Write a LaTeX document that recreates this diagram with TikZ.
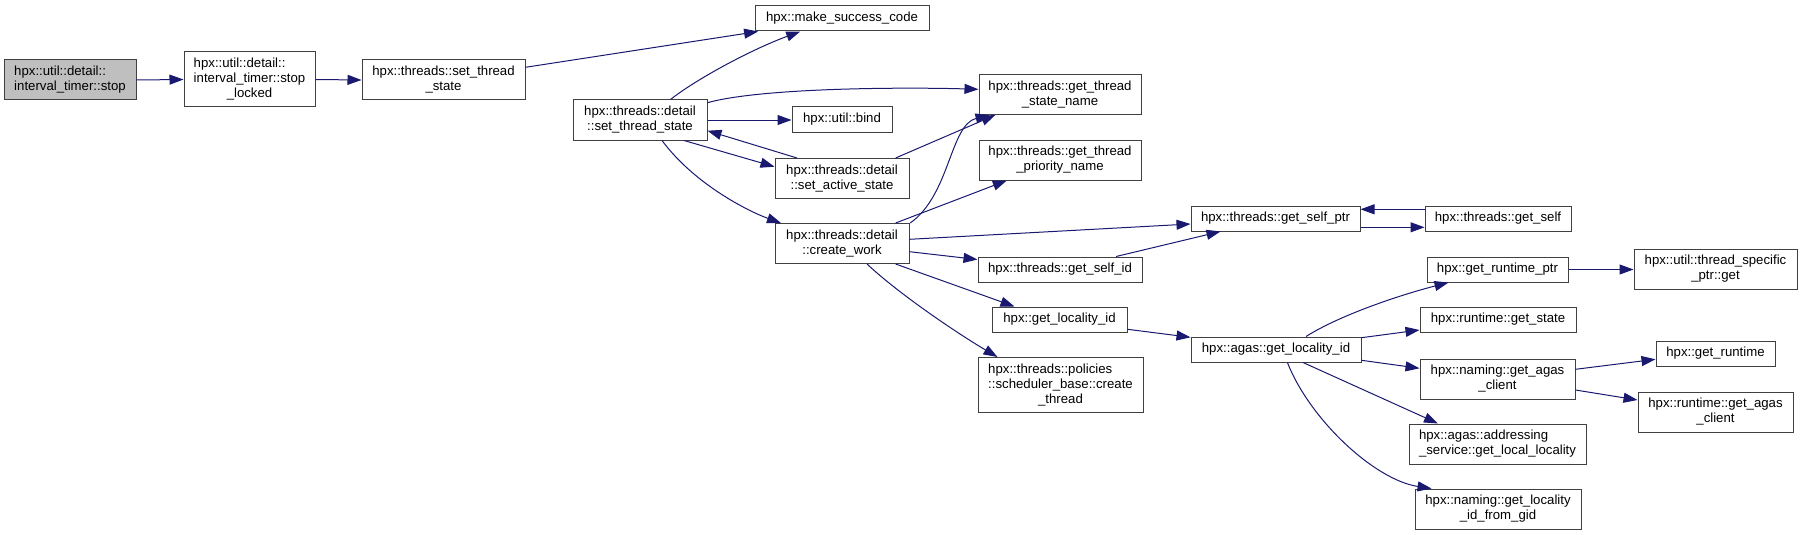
\documentclass[tikz,border=0pt]{standalone}
\usepackage{fontspec}
\setmainfont{Liberation Sans}
\usetikzlibrary{arrows.meta,calc}
\definecolor{edgeblue}{HTML}{191970}
\definecolor{boxline}{HTML}{404040}
\definecolor{rootfill}{HTML}{BFBFBF}
\newcommand{\twoln}[2]{\begin{tabular}{@{}l@{}}#1\\\multicolumn{1}{@{}c@{}}{#2}\end{tabular}}
\newcommand{\threeln}[3]{\begin{tabular}{@{}l@{}}#1\\#2\\\multicolumn{1}{@{}c@{}}{#3}\end{tabular}}
\begin{document}
\begin{tikzpicture}[x=0.75pt,y=-0.75pt,
  box/.style={draw=boxline, line width=0.75pt, fill=white, inner sep=0pt,
    font=\fontsize{9.9}{11.25}\selectfont},
  rootbox/.style={box, fill=rootfill},
  bx/.style n args={4}{minimum width={(#3-#1)*0.75pt}, minimum height={(#4-#2)*0.75pt},
    at={({(#1+#3)/2},{(#2+#4)/2})}},
  edge/.style={draw=edgeblue, line width=0.75pt, -{Triangle[length=10.5pt,width=7.5pt]}}]
\useasboundingbox (0,0) rectangle (1803,535);
% nodes
\node[rootbox, bx={4}{60}{136}{100}] (stop) {\twoln{hpx::util::detail::}{interval\_timer::stop}};
\node[box, bx={184}{52}{315}{107}] (locked) {\threeln{hpx::util::detail::}{interval\_timer::stop}{\_locked}};
\node[box, bx={362}{60}{525}{100}] (setts) {\twoln{hpx::threads::set\_thread}{\_state}};
\node[box, bx={755}{6}{929}{31}] (msc) {hpx::make\_success\_code};
\node[box, bx={573}{100}{707}{140}] (dsts) {\twoln{hpx::threads::detail}{::set\_thread\_state}};
\node[box, bx={979}{74.5}{1141}{114.5}] (gtsn) {\twoln{hpx::threads::get\_thread}{\_state\_name}};
\node[box, bx={792}{107}{892}{132}] (bind) {hpx::util::bind};
\node[box, bx={775}{158.5}{909}{198.5}] (sas) {\twoln{hpx::threads::detail}{::set\_active\_state}};
\node[box, bx={979}{140}{1141}{180}] (gtpn) {\twoln{hpx::threads::get\_thread}{\_priority\_name}};
\node[box, bx={775}{223.5}{909}{263.5}] (cw) {\twoln{hpx::threads::detail}{::create\_work}};
\node[box, bx={1191}{206}{1360}{231}] (gsp) {hpx::threads::get\_self\_ptr};
\node[box, bx={1425}{206}{1571}{231}] (gs) {hpx::threads::get\_self};
\node[box, bx={978}{257}{1142}{282}] (gsid) {hpx::threads::get\_self\_id};
\node[box, bx={1427}{257}{1568}{282}] (grp) {hpx::get\_runtime\_ptr};
\node[box, bx={1634}{249}{1797}{289}] (tsp) {\twoln{hpx::util::thread\_specific}{\_ptr::get}};
\node[box, bx={992}{307}{1127}{332}] (gli) {hpx::get\_locality\_id};
\node[box, bx={1420}{307}{1576}{332}] (rgs) {hpx::runtime::get\_state};
\node[box, bx={1191}{337}{1361}{362}] (agli) {hpx::agas::get\_locality\_id};
\node[box, bx={1656}{341}{1775}{366}] (grt) {hpx::get\_runtime};
\node[box, bx={1420}{359}{1575}{399}] (ngac) {\twoln{hpx::naming::get\_agas}{\_client}};
\node[box, bx={978}{357.5}{1143}{412.5}] (sched) {\threeln{hpx::threads::policies}{::scheduler\_base::create}{\_thread}};
\node[box, bx={1638}{392}{1793}{432}] (rgac) {\twoln{hpx::runtime::get\_agas}{\_client}};
\node[box, bx={1409}{424}{1586}{464}] (adr) {\twoln{hpx::agas::addressing}{\_service::get\_local\_locality}};
\node[box, bx={1415}{489}{1581}{529}] (glfg) {\twoln{hpx::naming::get\_locality}{\_id\_from\_gid}};
% edges
\draw[edge] (stop.east) -- (locked.west);
\draw[edge] (locked.east) -- (setts.west);
\draw[edge] ($(setts.east)+(0,-12.7)$) -- ($(msc.south west)+(3.6,0)$);
\draw[edge] ($(dsts.north)+(30.5,0)$) .. controls (695,80) and (750,50) .. ($(msc.south west)+(45.7,0)$);
\draw[edge] ($(dsts.east)+(0,-17.3)$) .. controls (760,88) and (900,87) .. ($(gtsn.west)+(0,-5.2)$);
\draw[edge] (dsts.east) -- (dsts.east -| bind.west);
\draw[edge] ($(sas.north)+(-45,0)$) -- ($(dsts.east)+(0,10.7)$);
\draw[edge] ($(dsts.south)+(44,0)$) -- ($(sas.west)+(0,-11.8)$);
\draw[edge] ($(dsts.south)+(22,0)$) .. controls (695,185) and (750,212) .. ($(cw.north west)+(6.5,0)$);
\draw[edge] ($(sas.north)+(53.6,0)$) -- ($(gtsn.south west)+(16.8,0)$);
\draw[edge] ($(cw.north east)+(0.7,0)$) .. controls (950,195) and (950,125) .. ($(gtsn.south west)+(11,0)$);
\draw[edge] ($(cw.north)+(53.6,0)$) -- ($(gtpn.south west)+(28.3,0)$);
\draw[edge] ($(cw.east)+(0,-4.2)$) -- ($(gsp.west)+(0,5.5)$);
\draw[edge] ($(cw.east)+(0,8.2)$) -- ($(gsid.west)+(0,-10)$);
\draw[edge] ($(cw.south)+(53.6,0)$) -- ($(gli.north west)+(23,0)$);
\draw[edge] ($(cw.south)+(25,0)$) .. controls (900,295) and (960,335) .. ($(sched.north west)+(20,0)$);
\draw[edge] ($(gsid.north east)+(-26.4,0)$) -- ($(gsp.south west)+(30,0)$);
\draw[edge] ($(gs.west)+(0,-9.2)$) -- ($(gsp.east)+(0,-9.2)$);
\draw[edge] ($(gsp.east)+(0,8.8)$) -- ($(gs.west)+(0,8.8)$);
\draw[edge] ($(gli.east)+(0,9.8)$) -- ($(agli.west)+(0,-12.2)$);
\draw[edge] ($(agli.north)+(30,0)$) .. controls (1340,315) and (1400,295) .. ($(grp.south west)+(22,0)$);
\draw[edge] ($(agli.east)+(0,-11.8)$) -- ($(rgs.west)+(0,10.5)$);
\draw[edge] ($(agli.east)+(0,10.8)$) -- ($(ngac.west)+(0,-10.7)$);
\draw[edge] ($(agli.south)+(27,0)$) -- ($(adr.north west)+(29.5,0)$);
\draw[edge] ($(agli.south)+(11.4,0)$) .. controls (1310,420) and (1375,480) .. ($(glfg.north west)+(17,0)$);
\draw[edge] (grp.east) -- (grp.east -| tsp.west);
\draw[edge] ($(ngac.east)+(0,-9.7)$) -- ($(grt.west)+(0,5.8)$);
\draw[edge] ($(ngac.east)+(0,11)$) -- ($(rgac.west)+(0,-12)$);
\end{tikzpicture}
\end{document}
